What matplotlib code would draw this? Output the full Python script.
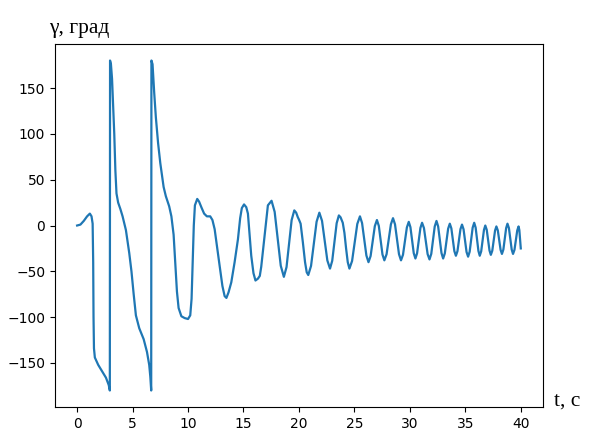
import matplotlib.pyplot as plt

# time, s
t = [0.0, 0.3, 0.6, 0.9, 1.15, 1.3, 1.4, 1.45, 1.48, 1.52, 1.6, 1.9, 2.3, 2.6, 2.85, 2.95,
     2.97, 3.05, 3.15, 3.25, 3.35, 3.45, 3.55, 3.7, 3.9, 4.1, 4.4, 4.7, 4.9, 5.1, 5.3, 5.6,
     6.0, 6.3, 6.5, 6.6, 6.68,
     6.7, 6.8, 6.95, 7.1, 7.3, 7.5, 7.8, 8.0, 8.3, 8.5, 8.7, 8.85, 9.0, 9.15, 9.4, 9.7,
     10.0, 10.2, 10.32, 10.42, 10.52, 10.62, 10.83, 11.0, 11.2, 11.45, 11.7, 12.0, 12.2,
     12.4, 12.6, 12.85, 13.1, 13.3, 13.46, 13.65, 13.9, 14.2, 14.5, 14.7, 14.85, 15.05,
     15.25, 15.4, 15.55, 15.7, 15.9, 16.08, 16.3, 16.47, 16.6, 16.77, 17.0, 17.2, 17.53,
     17.81, 18.09, 18.36, 18.64, 18.88, 19.11, 19.34, 19.58, 19.75, 19.9, 20.0, 20.15,
     20.35, 20.55, 20.7, 20.84, 21.09, 21.34, 21.59, 21.84, 22.08, 22.32, 22.56, 22.8,
     23.0, 23.2, 23.4, 23.6, 23.75, 23.95, 24.1, 24.25, 24.4, 24.55, 24.79, 25.03, 25.26,
     25.5, 25.69, 25.89, 26.08, 26.27, 26.46, 26.65, 26.84, 27.03, 27.2, 27.37, 27.53,
     27.7, 27.9, 28.09, 28.29, 28.48, 28.66, 28.84, 29.02, 29.2, 29.38, 29.55, 29.73,
     29.9, 30.05, 30.2, 30.35, 30.5, 30.65, 30.8, 30.95, 31.1, 31.27, 31.44, 31.6, 31.77,
     31.93, 32.09, 32.24, 32.4, 32.55, 32.7, 32.85, 33.0, 33.15, 33.3, 33.45, 33.6, 33.74,
     33.88, 34.01, 34.15, 34.29, 34.43, 34.56, 34.7, 34.84, 34.98, 35.11, 35.25, 35.39,
     35.53, 35.66, 35.8, 35.93, 36.05, 36.18, 36.3, 36.43, 36.55, 36.68, 36.8, 36.93,
     37.05, 37.18, 37.3, 37.43, 37.55, 37.68, 37.8, 37.93, 38.05, 38.18, 38.3, 38.43,
     38.55, 38.68, 38.8, 38.93, 39.05, 39.18, 39.3, 39.43, 39.55, 39.68, 39.8, 39.87,
     39.93, 40.0]

# roll angle, deg
gamma = [0, 1, 5, 10, 13, 10, 2, -40, -100, -134, -144, -152, -160, -166, -174, -180,
         180, 176, 160, 130, 100, 60, 35, 25, 18, 10, -5, -30, -50, -75, -98, -112,
         -124, -138, -152, -165, -180,
         180, 176, 145, 118, 90, 68, 42, 32, 21, 10, -10, -40, -72, -90, -99, -101,
         -102, -98, -80, -40, 0, 22, 29, 26, 20, 13, 10, 10, 6,
         -4, -22, -44, -66, -77, -79, -73, -62, -40, -15, 8, 19, 23,
         20, 13, -10, -33, -52, -60, -58, -55, -45, -26, 0, 22, 27,
         14.9, -14.5, -43.9, -56, -45.4, -19.8, 5.9, 16.5, 14, 9, 6.5, 2,
         -18, -40, -51, -54, -44.1, -20, 4.1, 14, 5.1, -16.5, -38.1, -47,
         -38.5, -18, 2.5, 11, 9, 3, -8, -25, -40, -47, -38.7, -18.5, 1.7,
         10, 2.7, -15, -32.7, -40, -33.3, -17, -0.7, 6, -0.4, -16, -31.6,
         -38, -31.3, -15, 1.3, 8, 1.3, -15, -31.3, -38, -31.9, -17, -2.1,
         4, -1.8, -16, -30.2, -36, -30.3, -16.5, -2.7, 3, -2.8, -17, -31.2, -37,
         -30.9, -16, -1.1, 5, -1, -15.5, -30, -36, -30.5, -17, -3.5, 2, -3.1,
         -15.5, -27.9, -33, -28, -16, -4, 1, -4.1, -16.5, -28.9, -34, -28.6,
         -15.5, -2.4, 3, -2.3, -15, -27.7, -33, -28.2, -16.5, -4.8, 0, -4.7,
         -16, -27.3, -32, -27.5, -16.5, -5.5, -1, -5.4, -16, -26.6, -31, -26.2,
         -14.5, -2.8, 2, -2.8, -14.5, -26.2, -31, -26.6, -16, -5.4, -1, -5,
         -14, -25]

fig = plt.figure(figsize=(5.97, 4.47), dpi=100)
ax = fig.add_axes([0.092, 0.0895, 0.8175, 0.812])
ax.plot(t, gamma, color='#1f77b4', lw=1.6)
ax.set_xticks([0, 5, 10, 15, 20, 25, 30, 35, 40])
ax.set_yticks([-150, -100, -50, 0, 50, 100, 150])

fig.text(49 / 597, 1 - 33 / 447, 'γ, град', family='Liberation Serif', fontsize=15.5)
fig.text(554 / 597, 1 - 406 / 447, 't, с', family='Liberation Serif', fontsize=15.5)

fig.savefig('out.png', dpi=100)
